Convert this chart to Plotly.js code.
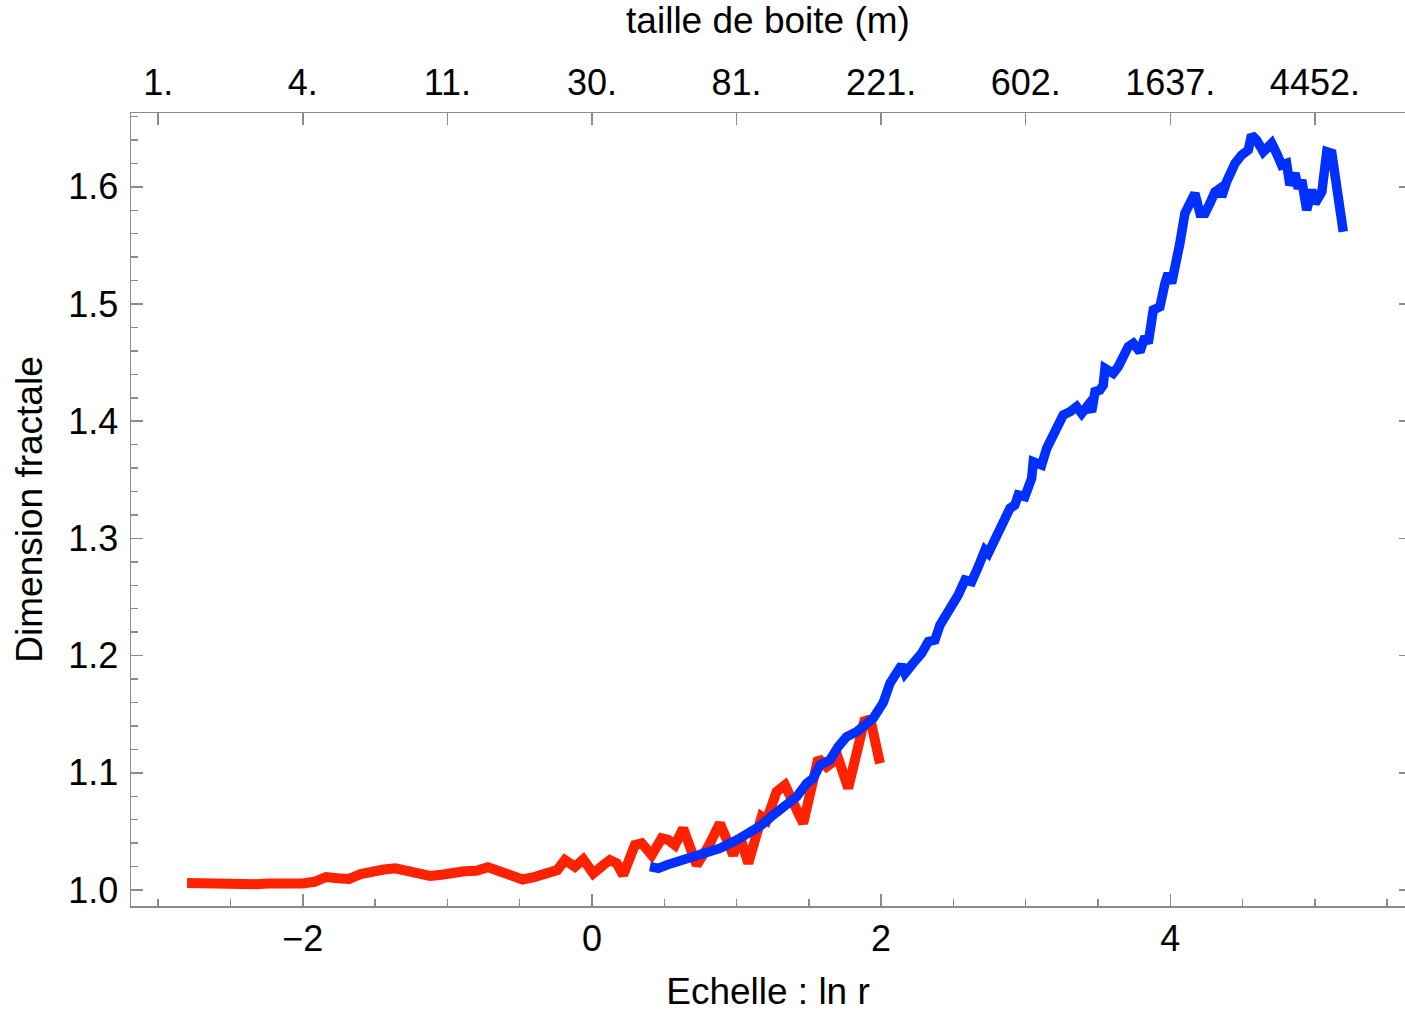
<!DOCTYPE html>
<html>
<head>
<meta charset="utf-8">
<script src="https://cdn.plot.ly/plotly-3.0.1.min.js"></script>
<style>
  html, body { margin: 0; padding: 0; background: #fff; }
  #chart { width: 1405px; height: 1012px; }
</style>
</head>
<body>
<div id="chart"></div>
<script>
// Fractal dimension vs. scale (ln r), two estimates
const redX = [-2.80, -2.72, -2.64, -2.56, -2.48, -2.40, -2.32, -2.24, -2.16, -2.08,
  -2.00, -1.92, -1.84, -1.76, -1.68, -1.60, -1.52, -1.44, -1.36, -1.28,
  -1.20, -1.12, -1.04, -0.96, -0.88, -0.80, -0.72, -0.64, -0.56, -0.48,
  -0.40, -0.32, -0.24, -0.187, -0.118, -0.060, 0.009, 0.078, 0.124, 0.171,
  0.216, 0.297, 0.344, 0.413, 0.482, 0.528, 0.574, 0.631, 0.724, 0.804,
  0.885, 0.977, 1.024, 1.081, 1.174, 1.208, 1.277, 1.335, 1.400, 1.461,
  1.565, 1.623, 1.703, 1.772, 1.888, 1.934, 1.992];
const redY = [1.0060, 1.0055, 1.0060, 1.0055, 1.0060, 1.0055, 1.0050, 1.0055, 1.0050, 1.0060,
  1.0055, 1.0070, 1.0110, 1.0100, 1.0095, 1.0135, 1.0160, 1.0175, 1.0185, 1.0165,
  1.0130, 1.0120, 1.0130, 1.0150, 1.0160, 1.0165, 1.0195, 1.0160, 1.0130, 1.0090,
  1.0110, 1.0150, 1.0170, 1.0256, 1.0199, 1.0262, 1.0142, 1.0213, 1.0256, 1.0228,
  1.0128, 1.0384, 1.0398, 1.0299, 1.0441, 1.0427, 1.0384, 1.0526, 1.0213, 1.0369,
  1.0569, 1.0299, 1.0455, 1.0228, 1.0626, 1.0597, 1.0839, 1.0896, 1.0750, 1.0569,
  1.1124, 1.1052, 1.1124, 1.0868, 1.1465, 1.1408, 1.1081];

const blueX = [0.401, 0.459, 0.517, 0.609, 0.701, 0.793, 0.885, 1.001, 1.093, 1.174,
  1.254, 1.346, 1.416, 1.485, 1.530, 1.577, 1.646, 1.703, 1.761, 1.831,
  1.900, 1.945, 2.015, 2.061, 2.142, 2.165, 2.211, 2.280, 2.326, 2.372,
  2.407, 2.476, 2.533, 2.580, 2.626, 2.672, 2.718, 2.741, 2.799, 2.868,
  2.891, 2.925, 2.948, 2.994, 3.041, 3.052, 3.110, 3.145, 3.190, 3.259,
  3.306, 3.352, 3.387, 3.432, 3.456, 3.479, 3.513, 3.536, 3.548, 3.605,
  3.640, 3.709, 3.744, 3.790, 3.824, 3.847, 3.882, 3.928, 3.963, 3.985,
  4.009, 4.032, 4.066, 4.101, 4.135, 4.170, 4.205, 4.240, 4.274, 4.309,
  4.343, 4.355, 4.389, 4.447, 4.493, 4.539, 4.562, 4.597, 4.643, 4.701,
  4.735, 4.770, 4.804, 4.827, 4.862, 4.885, 4.909, 4.943, 4.978, 5.001,
  5.048, 5.082, 5.117, 5.150, 5.196];
const blueY = [1.0199, 1.0185, 1.0213, 1.0250, 1.0284, 1.0318, 1.0356, 1.0427, 1.0484, 1.0555,
  1.0640, 1.0725, 1.0796, 1.0910, 1.0953, 1.1067, 1.1109, 1.1223, 1.1308, 1.1351,
  1.1408, 1.1465, 1.1600, 1.1764, 1.1920, 1.1849, 1.1920, 1.2020, 1.2119, 1.2133,
  1.2261, 1.2389, 1.2517, 1.2645, 1.2631, 1.2759, 1.2901, 1.2873, 1.3015, 1.3228,
  1.3257, 1.3285, 1.3370, 1.3356, 1.3513, 1.3654, 1.3626, 1.3769, 1.3868, 1.4053,
  1.4081, 1.4124, 1.4067, 1.4138, 1.4081, 1.4252, 1.4266, 1.4309, 1.4451, 1.4409,
  1.4465, 1.4636, 1.4665, 1.4593, 1.4721, 1.4665, 1.4949, 1.4977, 1.5177, 1.5262,
  1.5177, 1.5290, 1.5518, 1.5774, 1.5859, 1.5944, 1.5774, 1.5774, 1.5859, 1.5958,
  1.5987, 1.5916, 1.6044, 1.6200, 1.6271, 1.6314, 1.6442, 1.6399, 1.6300, 1.6371,
  1.6286, 1.6186, 1.6200, 1.6015, 1.6115, 1.5987, 1.6058, 1.5802, 1.5973, 1.5859,
  1.5958, 1.6300, 1.6286, 1.5973, 1.5617];

// Box size (m) shown on the top axis, at ln r = -3 ... 5
const topTickVals = [-3, -2, -1, 0, 1, 2, 3, 4, 5];
const topTickText = ['1.', '4.', '11.', '30.', '81.', '221.', '602.', '1637.', '4452.'];

const FONT = 'Liberation Sans, Arial, Helvetica, sans-serif';
const FRAME = '#8a8a8a';
const xRange = [-3.188, 5.623];
const yRange = [0.98635, 1.66301];

// red on the bottom/left axes, blue on the top/right pair (same ranges)
const traces = [
  { x: redX, y: redY, type: 'scatter', mode: 'lines', xaxis: 'x', yaxis: 'y',
    line: { color: '#ff2200', width: 10 }, hoverinfo: 'skip', showlegend: false },
  { x: blueX, y: blueY, type: 'scatter', mode: 'lines', xaxis: 'x2', yaxis: 'y2',
    line: { color: '#0030ff', width: 9.5 }, hoverinfo: 'skip', showlegend: false }
];

const tickFont = { family: FONT, size: 36, color: '#000' };
const titleFont = { family: FONT, size: 37, color: '#000' };

const layout = {
  width: 1405, height: 1012,
  margin: { l: 131, r: 0, t: 113, b: 106, pad: 0 },
  paper_bgcolor: '#fff', plot_bgcolor: '#fff',
  showlegend: false,
  xaxis: {
    range: xRange, tick0: 0, dtick: 2,
    ticks: 'inside', ticklen: 12, tickwidth: 1.5, tickcolor: FRAME,
    minor: { tick0: 0, dtick: 0.5, ticks: 'inside', ticklen: 7, tickwidth: 1.5, tickcolor: FRAME, showgrid: false },
    showline: true, linecolor: FRAME, linewidth: 1.5,
    showgrid: false, zeroline: false,
    tickfont: tickFont, ticklabelstandoff: 0,
    title: { text: 'Echelle : ln r', font: titleFont, standoff: 31 }
  },
  xaxis2: {
    overlaying: 'x', side: 'top', anchor: 'y2',
    range: xRange, tickmode: 'array', tickvals: topTickVals, ticktext: topTickText,
    ticks: 'inside', ticklen: 12, tickwidth: 1.5, tickcolor: FRAME,
    showline: true, linecolor: FRAME, linewidth: 1.5,
    showgrid: false, zeroline: false,
    tickfont: tickFont, ticklabelstandoff: 2,
    title: { text: 'taille de boite (m)', font: titleFont, standoff: 20 }
  },
  yaxis: {
    range: yRange, tick0: 1, dtick: 0.1, tickformat: '.1f',
    ticks: 'inside', ticklen: 12, tickwidth: 1.5, tickcolor: FRAME,
    minor: { tick0: 1, dtick: 0.02, ticks: 'inside', ticklen: 7, tickwidth: 1.5, tickcolor: FRAME, showgrid: false },
    showline: true, linecolor: FRAME, linewidth: 1.5,
    showgrid: false, zeroline: false,
    tickfont: tickFont, ticklabelstandoff: 4,
    title: { text: 'Dimension fractale', font: titleFont, standoff: 14 }
  },
  yaxis2: {
    overlaying: 'y', side: 'right', anchor: 'x2',
    range: yRange, tick0: 1, dtick: 0.1,
    ticks: 'inside', ticklen: 6, tickwidth: 1.5, tickcolor: FRAME,
    showticklabels: false, showline: false, showgrid: false, zeroline: false
  }
};

Plotly.newPlot('chart', traces, layout, { staticPlot: true, displayModeBar: false });
</script>
</body>
</html>
